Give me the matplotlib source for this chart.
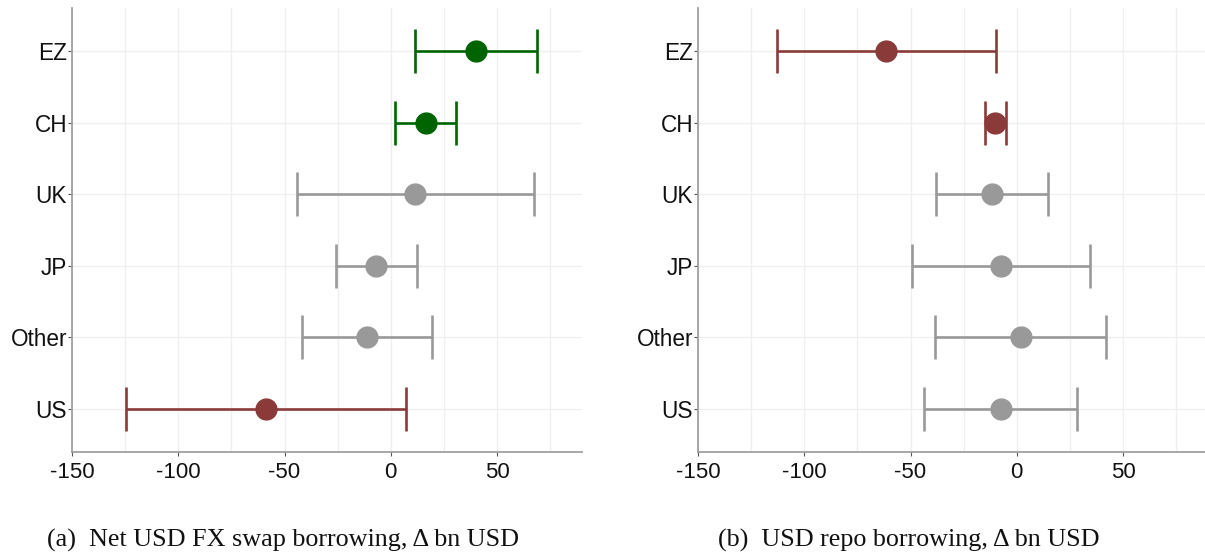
import numpy as np
import matplotlib
matplotlib.use("Agg")
import matplotlib.pyplot as plt
from matplotlib.ticker import MultipleLocator

# regions, top to bottom
regions = ["EZ", "CH", "UK", "JP", "Other", "US"]

# (a) net USD FX swap borrowing: estimate and interval bounds, bn USD
swap_est = [39.9, 16.6, 11.6, -6.9, -11.2, -58.7]
swap_lo = [11.2, 2.0, -44.2, -25.6, -41.7, -124.4]
swap_hi = [68.8, 30.9, 67.5, 12.3, 19.5, 7.4]
swap_col = ["pos", "pos", "ns", "ns", "ns", "neg"]

# (b) USD repo borrowing
repo_est = [-61.6, -10.2, -11.6, -7.5, 1.8, -7.6]
repo_lo = [-112.9, -15.1, -38.2, -49.3, -38.7, -43.6]
repo_hi = [-10.0, -5.1, 14.7, 34.7, 42.2, 28.2]
repo_col = ["neg", "neg", "ns", "ns", "ns", "ns"]

captions = ["(a)  Net USD FX swap borrowing, \u0394 bn USD",
            "(b)  USD repo borrowing, \u0394 bn USD"]

colors = {"pos": "#006400", "neg": "#8b3a3a", "ns": "#999999"}

plt.rcParams["font.family"] = ["Liberation Sans", "DejaVu Sans"]
plt.rcParams["axes.unicode_minus"] = False

W, H = 1205, 554
fig = plt.figure(figsize=(W / 100, H / 100), dpi=100)

ax_a = fig.add_axes([72 / W, 102 / H, 510 / W, 444 / H])
ax_b = fig.add_axes([698 / W, 102 / H, 510 / W, 444 / H])

ypos = np.arange(len(regions))[::-1]

def panel(ax, est, lo, hi, cols):
    for grid_x in np.arange(-150, 91, 25):
        ax.axvline(grid_x, color="#efefef", lw=0.9, zorder=0)
    for y in ypos:
        ax.axhline(y, color="#efefef", lw=0.9, zorder=0)
    for y, e, l, h, c in zip(ypos, est, lo, hi, cols):
        ax.errorbar([e], [y], xerr=[[e - l], [h - e]], fmt="o",
                    color=colors[c], ms=15, capsize=15.5, elinewidth=1.9,
                    capthick=1.9, zorder=3)
    ax.set_xlim(-150, 90)
    ax.set_ylim(-0.6, 5.6)
    ax.set_yticks(ypos)
    ax.set_yticklabels(regions)
    ax.xaxis.set_major_locator(MultipleLocator(50))
    for side in ["top", "right"]:
        ax.spines[side].set_visible(False)
    for side in ["left", "bottom"]:
        ax.spines[side].set_color("#a0a0a0")
        ax.spines[side].set_linewidth(1.3)
    ax.tick_params(axis="y", length=3, width=0.8, color="#555555",
                   pad=0.5, labelsize=16.3, labelcolor="#111111")
    ax.tick_params(axis="x", length=3, width=0.8, color="#555555",
                   pad=4, labelsize=16, labelcolor="#111111")

panel(ax_a, swap_est, swap_lo, swap_hi, swap_col)
panel(ax_b, repo_est, repo_lo, repo_hi, repo_col)

fig.text(47 / W, 1 - 547 / H, captions[0], family="Liberation Serif",
         fontsize=18.8, ha="left", va="baseline", color="#111111")
fig.text(718 / W, 1 - 547 / H, captions[1], family="Liberation Serif",
         fontsize=18.8, ha="left", va="baseline", color="#111111")

fig.savefig("out.png", dpi=100)
